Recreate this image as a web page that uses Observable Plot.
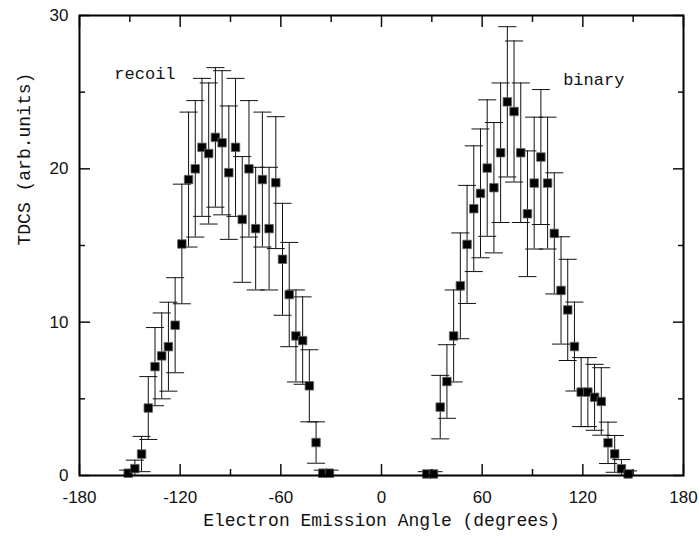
<!DOCTYPE html>
<html>
<head>
<meta charset="utf-8">
<script src="https://cdn.jsdelivr.net/npm/d3@7"></script>
<script src="https://cdn.jsdelivr.net/npm/@observablehq/plot@0.6"></script>
<style>
  html, body { margin: 0; padding: 0; background: #fff; }
</style>
</head>
<body>
<div id="chart"></div>
<script>
// ---- data ----
const recoilAngle = [-151,-147,-143,-139,-135,-131,-127,-123,-119,-115,-111,-107,-103,-99,-95,-91,-87,-83,-79,-75,-71,-67,-63,-59,-55,-51,-47,-43,-39,-35,-31];
const recoilTDCS  = [0.15,0.45,1.4,4.4,7.1,7.8,8.4,9.8,15.1,19.3,20.0,21.4,21.0,22.05,21.7,19.75,21.4,16.7,20.0,16.1,19.3,16.1,19.1,14.1,11.8,9.1,8.8,5.85,2.15,0.15,0.15];
const recoilErr   = [0.2,0.55,1.15,2.05,2.55,2.8,2.9,3.1,3.9,4.4,4.45,4.5,4.6,4.55,4.7,4.35,4.5,4.1,4.45,4.0,4.4,4.0,4.3,3.65,3.4,3.0,2.85,2.35,1.35,0.2,0.2];

const binaryAngle = [27,31,35,39,43,47,51,55,59,63,67,71,75,79,83,87,91,95,99,103,107,111,115,119,123,127,131,135,139,143,147];
const binaryTDCS  = [0.1,0.1,4.46,6.13,9.1,12.37,15.07,17.4,18.4,20.05,18.77,21.05,24.37,23.74,21.05,17.07,19.07,20.77,19.07,15.79,12.07,10.8,8.41,5.44,5.44,5.1,4.83,2.13,1.41,0.44,0.1];
const binaryErr   = [0.15,0.15,2.07,2.4,3.0,3.45,3.85,4.1,4.2,4.45,4.25,4.55,4.9,4.6,4.55,4.1,4.3,4.4,4.3,3.95,3.5,3.3,2.9,2.25,2.25,2.15,2.2,1.35,1.2,0.6,0.2];

const xMajor = [-180,-120,-60,0,60,120,180];
const xMinor = [-150,-90,-30,30,90,150];
const yMajor = [0,10,20,30];
const yMinor = [5,15,25];

const labels = [
  {text: "recoil", a: -141, v: 26.2},
  {text: "binary", a: 126.5, v: 25.8}
];

// ---- tables ----
const rows = [
  ...recoilAngle.map((a, i) => ({a, v: recoilTDCS[i], e: recoilErr[i]})),
  ...binaryAngle.map((a, i) => ({a, v: binaryTDCS[i], e: binaryErr[i]}))
];

const capSymbol = {
  draw(ctx) { ctx.moveTo(-9, 0); ctx.lineTo(9, 0); }
};

const blank = () => "";
const plain = d => String(d);
const tickFont = "Liberation Sans, Arial, sans-serif";
const textFont = "Liberation Mono, Courier New, monospace";

const chart = Plot.plot({
  width: 699,
  height: 550,
  marginLeft: 79,
  marginRight: 16,
  marginTop: 15,
  marginBottom: 75,
  style: {fontFamily: tickFont, fontSize: "17px", color: "#111", background: "#fff"},
  x: {domain: [-180, 180]},
  y: {domain: [0, 30]},
  marks: [
    // error bars
    Plot.ruleX(rows, {x: "a", y1: d => Math.max(0, d.v - d.e), y2: d => d.v + d.e, stroke: "#111", strokeWidth: 1}),
    Plot.dot(rows, {x: "a", y: d => d.v + d.e, symbol: capSymbol, r: 3, stroke: "#111", strokeWidth: 1, fill: "none"}),
    Plot.dot(rows, {x: "a", y: d => Math.max(0, d.v - d.e), symbol: capSymbol, r: 3, stroke: "#111", strokeWidth: 1, fill: "none"}),
    // points
    Plot.dot(rows, {x: "a", y: "v", symbol: "square", r: 4.8, fill: "#000", stroke: "#666", strokeWidth: 0.8}),
    // inward ticks
    Plot.axisX(xMajor, {anchor: "bottom", tickSize: 11, dy: -11, tickFormat: blank, label: null, strokeWidth: 1.5}),
    Plot.axisX(xMinor, {anchor: "bottom", tickSize: 6, dy: -6, tickFormat: blank, label: null, strokeWidth: 1.5}),
    Plot.axisX(xMajor, {anchor: "top", tickSize: 11, dy: 11, tickFormat: blank, label: null, strokeWidth: 1.5}),
    Plot.axisX(xMinor, {anchor: "top", tickSize: 6, dy: 6, tickFormat: blank, label: null, strokeWidth: 1.5}),
    Plot.axisY(yMajor, {anchor: "left", tickSize: 11, dx: 11, tickFormat: blank, label: null, strokeWidth: 1.5}),
    Plot.axisY(yMinor, {anchor: "left", tickSize: 6, dx: 6, tickFormat: blank, label: null, strokeWidth: 1.5}),
    Plot.axisY(yMajor, {anchor: "right", tickSize: 11, dx: -11, tickFormat: blank, label: null, strokeWidth: 1.5}),
    Plot.axisY(yMinor, {anchor: "right", tickSize: 6, dx: -6, tickFormat: blank, label: null, strokeWidth: 1.5}),
    // tick labels
    Plot.axisX(xMajor, {anchor: "bottom", tickSize: 0, tickPadding: 15, tickFormat: plain, label: null, fontSize: 17, fontFamily: tickFont}),
    Plot.axisY(yMajor, {anchor: "left", tickSize: 0, tickPadding: 11, tickFormat: plain, label: null, fontSize: 17, fontFamily: tickFont}),
    // frame
    Plot.frame({stroke: "#000", strokeWidth: 2}),
    // annotations
    Plot.text(labels, {x: "a", y: "v", text: "text", fontFamily: textFont, fontSize: 17, fill: "#111"}),
    // axis titles
    Plot.text(["Electron Emission Angle (degrees)"], {frameAnchor: "bottom", dy: 50, fontFamily: textFont, fontSize: 18, fill: "#111"}),
    Plot.text(["TDCS (arb.units)"], {frameAnchor: "left", dx: -55, rotate: -90, fontFamily: textFont, fontSize: 18, fill: "#111"})
  ]
});

document.getElementById("chart").appendChild(chart);
</script>
</body>
</html>
